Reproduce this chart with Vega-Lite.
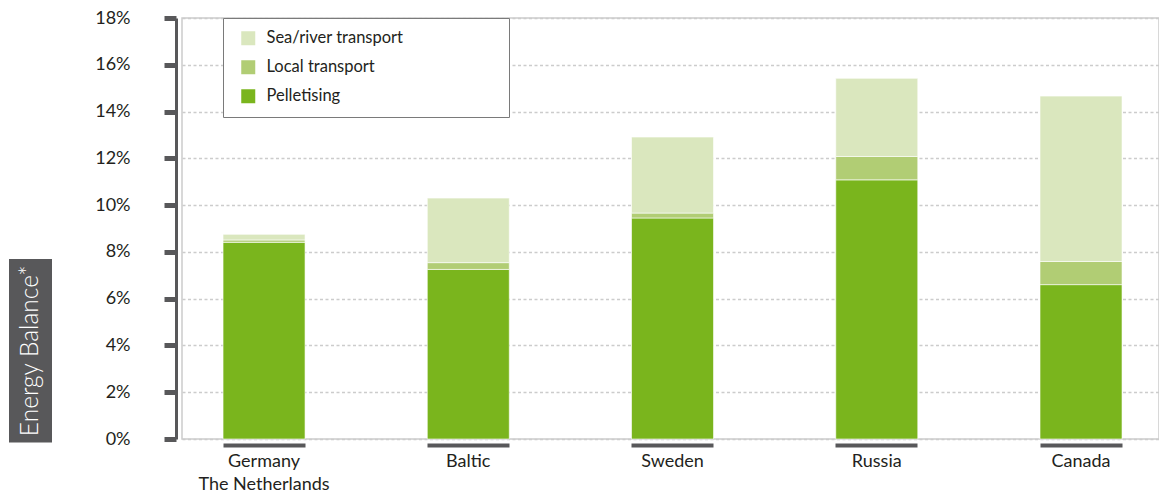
{
  "$schema": "https://vega.github.io/schema/vega-lite/v6.json",
  "background": "white",
  "padding": {"left": 9, "top": 8, "right": 0, "bottom": 0},
  "bounds": "flush",
  "spacing": 130,
  "config": {
    "font": "Lato",
    "view": {"stroke": "#cccccc", "strokeWidth": 1.5}
  },
  "datasets": {
    "energy": [
      {"country": "Germany\nThe Netherlands", "component": "Pelletising", "stack": 1, "share": 0.0841},
      {"country": "Germany\nThe Netherlands", "component": "Local transport", "stack": 2, "share": 0.0010},
      {"country": "Germany\nThe Netherlands", "component": "Sea/river transport", "stack": 3, "share": 0.0024},
      {"country": "Baltic", "component": "Pelletising", "stack": 1, "share": 0.0725},
      {"country": "Baltic", "component": "Local transport", "stack": 2, "share": 0.0029},
      {"country": "Baltic", "component": "Sea/river transport", "stack": 3, "share": 0.0276},
      {"country": "Sweden", "component": "Pelletising", "stack": 1, "share": 0.0945},
      {"country": "Sweden", "component": "Local transport", "stack": 2, "share": 0.0021},
      {"country": "Sweden", "component": "Sea/river transport", "stack": 3, "share": 0.0325},
      {"country": "Russia", "component": "Pelletising", "stack": 1, "share": 0.1108},
      {"country": "Russia", "component": "Local transport", "stack": 2, "share": 0.0100},
      {"country": "Russia", "component": "Sea/river transport", "stack": 3, "share": 0.0334},
      {"country": "Canada", "component": "Pelletising", "stack": 1, "share": 0.0660},
      {"country": "Canada", "component": "Local transport", "stack": 2, "share": 0.0099},
      {"country": "Canada", "component": "Sea/river transport", "stack": 3, "share": 0.0707}
    ],
    "ytitle": [
      {"title": "Energy Balance*", "from": -0.0015, "to": 0.077, "mid": 0.03775}
    ]
  },
  "resolve": {"legend": {"color": "independent"}, "scale": {"y": "independent"}},
  "hconcat": [
    {
      "width": 43,
      "height": 421,
      "view": {"stroke": null},
      "data": {"name": "ytitle"},
      "layer": [
        {
          "mark": {"type": "rect", "color": "#58585a", "clip": false},
          "encoding": {
            "y": {"field": "from", "type": "quantitative", "scale": {"domain": [0, 0.18], "nice": false, "zero": false}, "axis": null},
            "y2": {"field": "to"}
          }
        },
        {
          "mark": {"type": "text", "angle": 270, "color": "white", "fontSize": 24.5, "fontWeight": 300, "font": "Lato", "align": "center", "baseline": "middle"},
          "encoding": {
            "y": {"field": "mid", "type": "quantitative", "scale": {"domain": [0, 0.18], "nice": false, "zero": false}, "axis": null},
            "text": {"field": "title"}
          }
        }
      ]
    },
    {
      "width": 977,
      "height": 421,
      "data": {"name": "energy"},
      "mark": {"type": "bar", "stroke": "white", "strokeWidth": 0.6},
      "encoding": {
        "x": {
          "field": "country",
          "type": "nominal",
          "sort": null,
          "scale": {"paddingInner": 0.5985, "paddingOuter": 0.191, "align": 0.526},
          "axis": {
            "title": null,
            "domain": false,
            "labelAngle": 0,
            "offset": 4,
            "ticks": true,
            "tickSize": 4,
            "tickWidth": 82,
            "tickCap": "butt",
            "tickColor": "#58585a",
            "labelFont": "Lato",
            "labelFontSize": 18,
            "labelColor": "#231f20",
            "labelPadding": 5,
            "labelLineHeight": 23,
            "labelExpr": "split(datum.label, '\\n')"
          }
        },
        "y": {
          "field": "share",
          "type": "quantitative",
          "stack": "zero",
          "scale": {"domain": [0, 0.18], "nice": false},
          "axis": {
            "title": null,
            "values": [0, 0.02, 0.04, 0.06, 0.08, 0.1, 0.12, 0.14, 0.16, 0.18],
            "format": ".0%",
            "offset": 6,
            "domainColor": "#58585a",
            "domainWidth": 3,
            "tickColor": "#58585a",
            "tickSize": 12,
            "tickWidth": 5,
            "tickCap": "butt",
            "labelFont": "Lato",
            "labelFontSize": 18,
            "labelColor": "#231f20",
            "labelPadding": 34,
            "grid": true,
            "gridColor": "#cccccc",
            "gridWidth": 1.5,
            "gridDash": [3, 2.5]
          }
        },
        "color": {
          "field": "component",
          "type": "nominal",
          "scale": {
            "domain": ["Sea/river transport", "Local transport", "Pelletising"],
            "range": ["#dae7be", "#b1cd74", "#7ab51d"]
          },
          "legend": {
            "title": null,
            "orient": "none",
            "legendX": 41,
            "legendY": 0,
            "direction": "vertical",
            "fillColor": "white",
            "strokeColor": "#7a7a7a",
            "padding": 12,
            "symbolType": "square",
            "symbolSize": 196,
            "symbolStrokeWidth": 0,
            "symbolOffset": 5,
            "labelOffset": 10,
            "rowPadding": 12,
            "labelFont": "Lato",
            "labelFontSize": 16.5,
            "labelColor": "#231f20",
            "labelLimit": 400,
            "labelExpr": "datum.label + '\u00a0\u00a0\u00a0\u00a0\u00a0\u00a0\u00a0\u00a0\u00a0\u00a0\u00a0\u00a0\u00a0\u00a0\u00a0\u00a0\u00a0\u00a0\u00a0\u00a0\u00a0\u00a0\u200b'"
          }
        },
        "order": {"field": "stack", "type": "quantitative"}
      }
    }
  ]
}
